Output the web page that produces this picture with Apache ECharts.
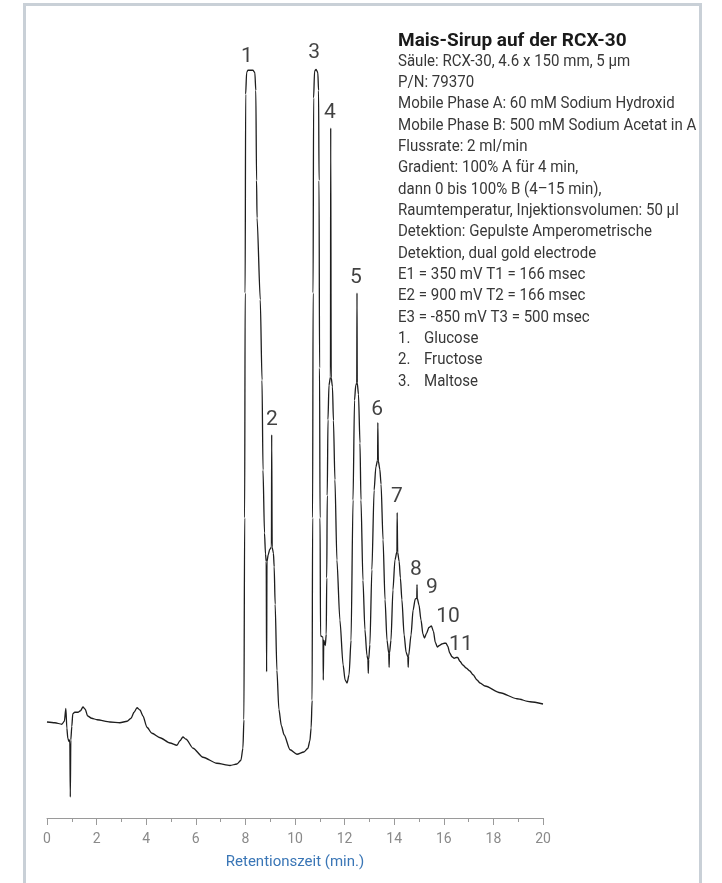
<!DOCTYPE html>
<html><head><meta charset="utf-8">
<script src="https://cdn.jsdelivr.net/npm/echarts@6/dist/echarts.min.js"></script>
<style>html,body{margin:0;padding:0;background:#fff}#c{width:722px;height:883px}</style>
</head><body><div id="c"></div>
<script>
// Retention time (min) and detector signal (arbitrary units)
const timeMin = [0.00,0.32,0.60,0.70,0.76,0.80,0.84,0.89,0.92,0.94,0.96,1.00,1.04,1.12,1.25,1.35,1.45,1.54,1.64,1.80,2.02,2.54,2.94,3.23,3.39,3.51,3.63,3.75,3.87,4.03,4.23,4.56,4.96,5.24,5.36,5.48,5.61,5.89,6.29,6.85,7.38,7.66,7.82,7.90,7.94,7.97,7.99,8.01,8.05,8.10,8.30,8.38,8.42,8.45,8.47,8.60,8.67,8.71,8.77,8.81,8.84,8.855,8.87,8.92,8.98,9.05,9.06,9.08,9.13,9.16,9.20,9.27,9.35,9.45,9.56,9.80,10.08,10.36,10.52,10.60,10.65,10.69,10.71,10.73,10.75,10.79,10.85,10.92,10.95,10.97,10.99,11.01,11.03,11.13,11.14,11.16,11.22,11.26,11.28,11.30,11.33,11.37,11.43,11.44,11.46,11.51,11.55,11.61,11.69,11.81,11.94,12.02,12.10,12.18,12.26,12.34,12.40,12.45,12.49,12.50,12.51,12.56,12.62,12.66,12.74,12.82,12.90,12.94,12.955,12.97,13.02,13.10,13.19,13.26,13.33,13.34,13.36,13.42,13.47,13.55,13.63,13.71,13.78,13.795,13.81,13.87,13.95,14.03,14.11,14.12,14.14,14.20,14.25,14.31,14.40,14.48,14.55,14.565,14.58,14.68,14.76,14.85,14.91,14.92,14.93,15.00,15.08,15.16,15.22,15.30,15.40,15.50,15.58,15.66,15.74,15.82,15.92,16.02,16.09,16.16,16.24,16.33,16.42,16.50,16.56,16.65,16.77,16.90,17.05,17.18,17.34,17.46,17.66,18.27,18.95,19.48,20.00];
const signal = [12.8,12.7,12.5,12.9,14.6,12.0,10.6,10.2,10.4,2.8,10.4,12.2,13.9,14.1,14.1,14.3,14.8,14.5,13.6,13.3,13.1,12.8,12.7,12.9,13.3,14.1,14.7,14.4,13.6,12.1,11.3,10.7,10.0,9.7,10.3,10.8,10.5,9.3,8.1,7.3,7.0,7.2,7.7,9.3,13.1,40,70,96.5,99.4,99.7,99.7,99.4,97,85,80,69.1,58.4,46.4,38,35.2,34.2,19.5,34.2,35.1,35.8,36.1,51.1,36.1,35.3,33.5,28.5,19.7,14.5,12.3,11.1,9.1,8.5,8.8,9.3,10.3,12,15.7,40,70,96,99.6,99.8,99.4,97,85,60,40,24.3,24.1,18.4,23.7,23.0,24.5,32,43,53.1,57.7,58.8,92.0,58.7,57.5,53,45.1,34.4,26.4,20.4,18.4,18.0,19.1,23.7,42.4,55.7,57.7,58.0,70.0,58.0,56.5,50,42.4,31.7,25.1,21.7,21.1,19.3,21.1,23.1,33.1,43.7,46.8,47.7,52.7,47.6,46.5,44.5,37.1,29.1,23.7,22.0,20.1,22.0,23.7,30.4,34.4,35.5,40.7,35.4,34.2,32,29.1,24.4,22.1,21.5,20.1,21.6,24.4,27.7,29.2,29.3,31.1,29.3,28.4,26.4,24.5,24.0,24.6,25.4,25.6,24.9,23.4,22.8,23.0,23.2,23.3,23.3,22.9,22.0,21.5,21.3,21.4,21.4,20.9,20.4,20.0,19.6,19.1,18.4,18.0,17.6,16.7,15.9,15.5,15.2];

// Peak annotations (data coordinates)
const peakIds = ['1','2','3','4','5','6','7','8','9','10','11'];
const peakLabelTime = [8.06, 9.07, 10.77, 11.41, 12.46, 13.31, 14.11, 14.88, 15.52, 16.17, 16.69];
const peakLabelLevel = [101.5, 53.1, 102.1, 94.0, 72.0, 54.4, 42.8, 33.1, 30.7, 26.8, 23.1];

// Axis ticks
const xTicks = [0, 2, 4, 6, 8, 10, 12, 14, 16, 18, 20];

const titleText = 'Mais-Sirup auf der RCX-30';
const infoLines = [
  'Säule: RCX-30, 4.6 x 150 mm, 5 µm',
  'P/N: 79370',
  'Mobile Phase A: 60 mM Sodium Hydroxid',
  'Mobile Phase B: 500 mM Sodium Acetat in A',
  'Flussrate: 2 ml/min',
  'Gradient: 100% A für 4 min,',
  'dann 0 bis 100% B (4–15 min),',
  'Raumtemperatur, Injektionsvolumen: 50 µl',
  'Detektion: Gepulste Amperometrische',
  'Detektion, dual gold electrode',
  'E1 = 350 mV T1 = 166 msec',
  'E2 = 900 mV T2 = 166 msec',
  'E3 = -850 mV T3 = 500 msec'
];
const compounds = ['Glucose', 'Fructose', 'Maltose'];

const FONT = '"Roboto", "Liberation Sans", sans-serif';
const chart = echarts.init(document.getElementById('c'), null, {renderer: 'canvas'});
const trace = timeMin.map((t, i) => [t, signal[i]]);
const labels = peakIds.map((id, i) => ({name: id, value: [peakLabelTime[i], peakLabelLevel[i]]}));
const LH = 21.33;
const SX = 0.885;
const BODY_TOP = 61.5 - LH / 2;

chart.setOption({
  animation: false,
  backgroundColor: '#ffffff',
  grid: {left: 47, right: 179, top: 30.5, bottom: 65, containLabel: false},
  xAxis: {
    type: 'value', min: xTicks[0], max: xTicks[xTicks.length - 1], interval: 2,
    axisLine: {lineStyle: {color: '#9a9a9a', width: 1}},
    axisTick: {show: true, length: 7, lineStyle: {color: '#9a9a9a'}},
    minorTick: {show: true, splitNumber: 2, length: 4, lineStyle: {color: '#9a9a9a'}},
    splitLine: {show: false},
    axisLabel: {color: '#8a8a8a', fontSize: 14, fontFamily: FONT, margin: 14},
    name: 'Retentionszeit (min.)', nameLocation: 'middle', nameGap: 37,
    nameTextStyle: {color: '#3a76b6', fontSize: 15, fontFamily: FONT}
  },
  yAxis: {type: 'value', min: 0, max: 105, show: false},
  series: [
    {
      type: 'line', data: trace, showSymbol: false, symbol: 'none', smooth: 0.25, smoothMonotone: 'x',
      lineStyle: {color: '#1e1e1e', width: 1.3}, silent: true
    },
    {
      type: 'scatter', data: labels, symbolSize: 0, clip: false, silent: true,
      label: {show: true, position: 'inside', formatter: '{b}', color: '#111111', fontSize: 21, fontFamily: FONT}
    }
  ],
  graphic: [
    {type: 'polyline', shape: {points: [[24.5, 883], [24.5, 4.5], [700.5, 4.5], [700.5, 883]]},
     style: {stroke: '#c9d0d7', lineWidth: 3, fill: null}, silent: true},
    {type: 'text', x: 398, y: 41, scaleX: 1.0,
     style: {text: titleText, fill: '#1a1a1a', font: 'bold 19px ' + FONT, verticalAlign: 'middle'}},
    {type: 'text', x: 398, y: BODY_TOP, scaleX: SX,
     style: {text: infoLines.join('\n'), fill: '#383838', font: '17px ' + FONT, lineHeight: LH, verticalAlign: 'top'}},
    {type: 'text', x: 398, y: BODY_TOP + infoLines.length * LH, scaleX: SX,
     style: {text: compounds.map((c, i) => (i + 1) + '.').join('\n'), fill: '#383838', font: '17px ' + FONT, lineHeight: LH, verticalAlign: 'top'}},
    {type: 'text', x: 424, y: BODY_TOP + infoLines.length * LH, scaleX: SX,
     style: {text: compounds.join('\n'), fill: '#383838', font: '17px ' + FONT, lineHeight: LH, verticalAlign: 'top'}}
  ]
});
</script>
</body></html>
